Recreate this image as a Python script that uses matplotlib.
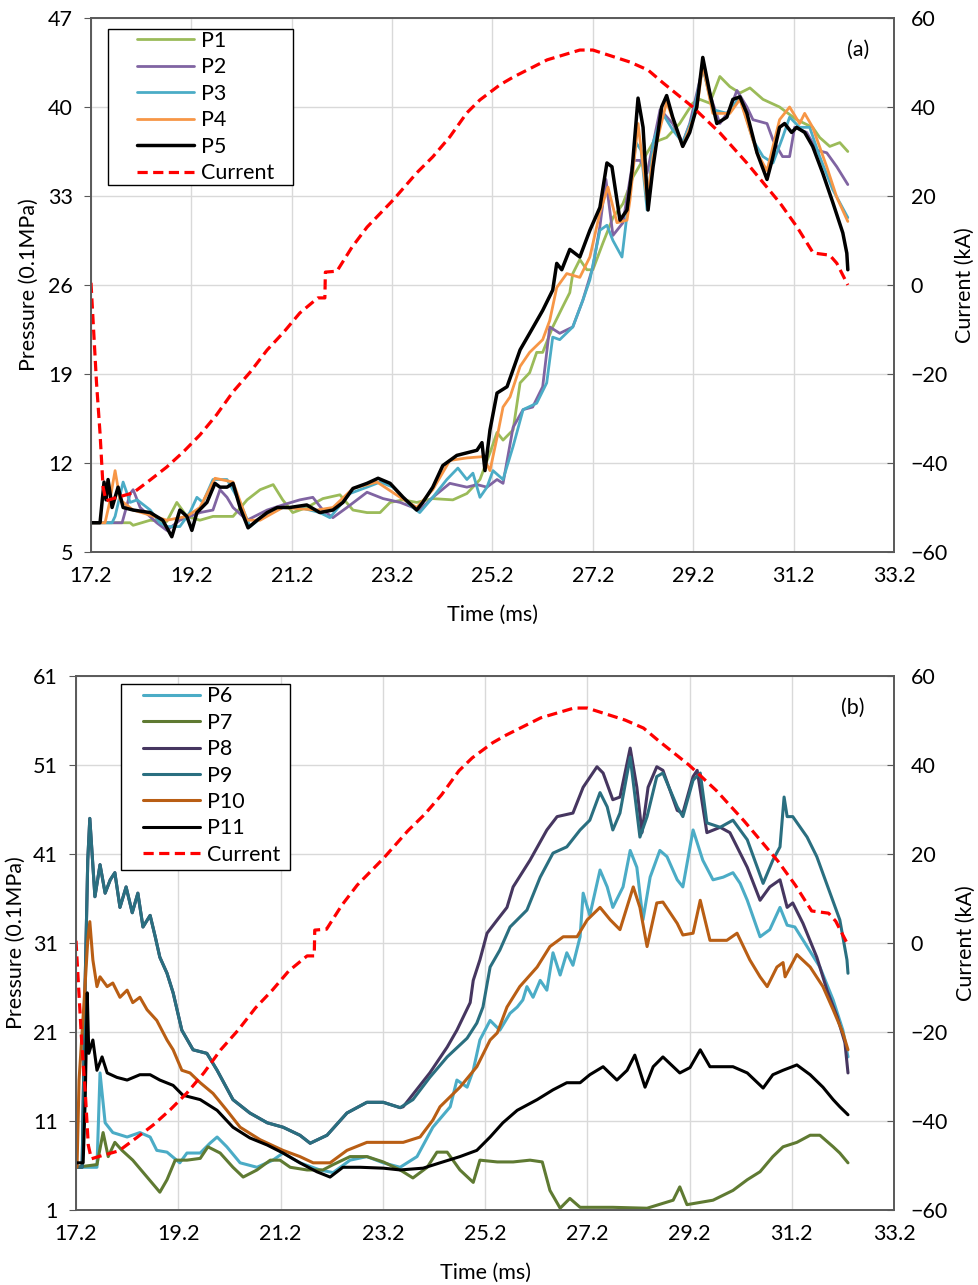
import numpy as np
import matplotlib
matplotlib.use("Agg")
import matplotlib.pyplot as plt
from matplotlib.patches import Rectangle

plt.rcParams['font.family'] = ['Lato', 'DejaVu Sans']

# ---------------- discharge current (kA), shared by both panels ----------------
cur_t = [17.20, 17.31, 17.38, 17.44, 17.50, 17.64, 18.04, 18.38, 18.71, 19.04, 19.37, 19.70,
         20.03, 20.37, 20.71, 21.04, 21.36, 21.72, 21.86, 21.87, 22.10, 22.40, 22.70, 23.22,
         23.69, 24.01, 24.35, 24.69, 24.95, 25.35, 25.61, 26.29, 26.94, 27.20, 27.94, 28.30,
         28.60, 29.19, 29.73, 30.27, 30.60, 30.93, 31.27, 31.59, 31.92, 32.06, 32.28]
cur_i = [0.5, -22.0, -33.3, -45.4, -48.5, -48.0, -46.7, -43.8, -40.9, -37.5, -33.7, -29.2,
         -24.0, -19.6, -14.6, -10.6, -6.3, -2.9, -2.9, 2.9, 3.1, 8.5, 13.0, 19.1,
         25.2, 28.8, 33.3, 38.7, 41.6, 45.0, 46.7, 50.6, 52.8, 52.8, 50.1, 48.3,
         45.4, 40.0, 34.2, 27.4, 22.9, 18.4, 13.0, 7.2, 6.7, 4.9, 0.0]

# ---------------- panel (a): pressure P1-P5 (0.1 MPa) ----------------
p1_t = [17.20, 17.98, 18.04, 18.38, 18.71, 18.91, 19.11, 19.37, 19.63, 20.03, 20.31, 20.57,
        20.83, 21.02, 21.22, 21.50, 21.82, 22.16, 22.42, 22.70, 22.96, 23.16, 23.42, 23.69,
        24.01, 24.41, 24.69, 24.95, 25.15, 25.29, 25.41, 25.61, 25.75, 25.94, 26.08, 26.20,
        26.40, 26.60, 26.74, 26.80, 26.94, 27.08, 27.20, 27.40, 27.60, 27.80, 28.00, 28.40,
        28.67, 28.93, 29.19, 29.33, 29.53, 29.73, 29.93, 30.13, 30.33, 30.59, 30.92, 31.26,
        31.58, 31.72, 31.92, 32.12, 32.28]
p1_v = [7.3, 7.3, 7.1, 7.5, 7.4, 8.9, 7.8, 7.5, 7.8, 7.8, 9.1, 9.9,
        10.3, 9.1, 8.1, 8.5, 9.2, 9.5, 8.3, 8.1, 8.1, 8.9, 9.1, 8.9,
        9.2, 9.1, 9.6, 10.7, 12.8, 14.4, 13.8, 14.6, 18.3, 19.1, 20.7, 20.7,
        22.7, 24.3, 25.4, 26.9, 28.0, 27.2, 27.2, 29.3, 31.3, 32.4, 34.5, 37.2,
        37.6, 38.7, 40.3, 40.6, 40.3, 42.4, 41.6, 41.1, 41.5, 40.6, 40.0, 39.0,
        38.4, 37.6, 36.9, 37.2, 36.5]

p2_t = [17.20, 17.82, 17.98, 18.04, 18.18, 18.51, 18.71, 18.97, 19.37, 19.63, 19.77, 19.91,
        20.03, 20.31, 20.71, 21.02, 21.36, 21.62, 21.82, 22.02, 22.30, 22.70, 23.02, 23.36,
        23.75, 24.01, 24.35, 24.69, 24.89, 25.09, 25.29, 25.41, 25.61, 25.81, 26.00, 26.20,
        26.34, 26.54, 26.80, 27.00, 27.20, 27.34, 27.46, 27.60, 27.80, 28.00, 28.14, 28.28,
        28.54, 28.79, 28.99, 29.13, 29.39, 29.59, 29.73, 29.93, 30.07, 30.27, 30.39, 30.67,
        30.79, 30.98, 31.12, 31.22, 31.46, 31.66, 31.86, 32.06, 32.28]
p2_v = [7.3, 7.3, 9.6, 9.9, 8.5, 7.3, 6.7, 7.5, 8.1, 8.3, 9.9, 9.3,
        8.5, 7.5, 8.3, 8.7, 9.1, 9.3, 8.3, 7.7, 8.5, 9.7, 9.2, 8.9,
        8.3, 9.3, 10.4, 10.1, 10.3, 10.1, 10.7, 10.4, 14.8, 16.2, 16.4, 18.0,
        22.7, 22.2, 22.7, 24.8, 27.4, 30.6, 34.3, 29.9, 30.9, 35.8, 35.8, 34.8,
        39.8, 38.7, 37.2, 38.7, 43.1, 40.3, 38.7, 39.8, 41.3, 40.0, 39.0, 38.7,
        37.4, 36.1, 36.1, 38.4, 38.0, 36.6, 36.4, 35.3, 33.9]

p3_t = [17.20, 17.62, 17.68, 17.84, 17.98, 18.12, 18.38, 18.57, 18.71, 18.97, 19.17, 19.31,
        19.43, 19.63, 19.91, 20.17, 20.37, 20.63, 21.02, 21.36, 21.76, 21.96, 22.36, 22.70,
        22.96, 23.22, 23.55, 23.75, 24.01, 24.29, 24.51, 24.69, 24.81, 24.95, 25.09, 25.21,
        25.41, 25.61, 25.81, 26.08, 26.28, 26.40, 26.54, 26.80, 27.00, 27.14, 27.34, 27.48,
        27.60, 27.78, 27.94, 28.06, 28.16, 28.28, 28.40, 28.59, 28.79, 28.99, 29.19, 29.39,
        29.59, 29.87, 30.13, 30.39, 30.59, 30.79, 30.98, 31.12, 31.32, 31.52, 31.72, 31.98,
        32.28]
p3_v = [7.3, 7.3, 7.8, 10.5, 8.9, 9.1, 8.3, 7.3, 7.0, 7.0, 8.1, 9.3,
        8.9, 10.7, 10.7, 8.9, 7.0, 7.8, 8.5, 8.5, 8.1, 7.7, 9.6, 10.1,
        10.5, 10.1, 8.7, 8.1, 9.3, 10.7, 11.6, 10.7, 11.2, 9.3, 10.1, 11.4,
        10.7, 13.3, 16.2, 16.7, 18.3, 21.9, 21.7, 22.7, 24.8, 26.4, 30.3, 30.7,
        29.5, 28.2, 33.5, 37.2, 36.6, 31.9, 37.2, 39.5, 38.2, 37.2, 39.2, 43.1,
        39.8, 39.5, 40.8, 37.4, 36.1, 35.6, 37.6, 39.2, 38.4, 38.4, 36.1, 33.5,
        31.3]

p4_t = [17.20, 17.48, 17.56, 17.68, 17.78, 18.04, 18.71, 19.11, 19.37, 19.67, 20.03, 20.31,
        20.57, 21.02, 21.70, 22.02, 22.42, 22.90, 23.36, 23.69, 24.01, 24.35, 24.69, 25.01,
        25.15, 25.29, 25.41, 25.55, 25.75, 25.94, 26.20, 26.34, 26.48, 26.68, 26.94, 27.14,
        27.34, 27.50, 27.68, 27.88, 27.94, 28.10, 28.28, 28.40, 28.67, 28.99, 29.27, 29.39,
        29.59, 29.93, 30.13, 30.47, 30.67, 30.92, 31.12, 31.32, 31.42, 31.58, 31.86, 32.06,
        32.28]
p4_v = [7.3, 7.3, 8.7, 11.4, 9.1, 8.3, 7.5, 7.8, 8.5, 10.8, 10.5, 7.5,
        7.5, 8.5, 8.3, 8.5, 10.0, 10.5, 9.3, 8.5, 9.9, 12.2, 12.4, 12.5,
        11.4, 14.0, 16.4, 17.2, 19.6, 20.7, 21.7, 23.2, 25.8, 26.9, 26.6, 28.2,
        31.7, 33.7, 30.9, 31.1, 32.7, 38.7, 32.7, 36.1, 40.4, 36.9, 39.8, 43.3,
        39.5, 39.5, 40.6, 36.4, 35.0, 39.0, 40.0, 38.7, 39.5, 38.4, 35.3, 32.9,
        31.0]

p5_t = [17.20, 17.38, 17.46, 17.50, 17.54, 17.62, 17.74, 17.84, 18.04, 18.38, 18.63, 18.81,
        18.97, 19.11, 19.21, 19.31, 19.51, 19.67, 19.77, 19.91, 20.03, 20.17, 20.33, 20.51,
        20.71, 20.91, 21.16, 21.50, 21.76, 22.02, 22.22, 22.42, 22.70, 22.92, 23.16, 23.42,
        23.69, 23.81, 24.01, 24.21, 24.49, 24.69, 24.89, 24.99, 25.05, 25.15, 25.29, 25.49,
        25.75, 25.94, 26.20, 26.40, 26.48, 26.58, 26.74, 26.94, 27.14, 27.34, 27.48, 27.58,
        27.74, 27.88, 27.98, 28.10, 28.20, 28.30, 28.40, 28.57, 28.67, 28.79, 28.99, 29.13,
        29.27, 29.39, 29.53, 29.67, 29.87, 29.99, 30.13, 30.27, 30.47, 30.67, 30.77, 30.92,
        31.02, 31.16, 31.26, 31.42, 31.58, 31.78, 31.98, 32.18, 32.26, 32.28]
p5_v = [7.3, 7.3, 10.5, 9.1, 10.7, 8.5, 10.1, 8.5, 8.3, 8.1, 7.5, 6.2,
        8.3, 7.8, 6.7, 8.1, 8.9, 10.4, 10.1, 10.1, 10.4, 8.5, 6.9, 7.5,
        8.1, 8.5, 8.5, 8.7, 8.1, 8.3, 8.9, 10.0, 10.4, 10.8, 10.4, 9.3,
        8.3, 8.9, 10.1, 11.8, 12.6, 12.8, 13.0, 13.6, 11.4, 14.6, 17.5, 18.0,
        20.9, 22.2, 24.0, 25.6, 27.7, 27.2, 28.8, 28.2, 30.3, 32.1, 35.6, 35.3,
        31.1, 31.9, 35.0, 40.7, 38.4, 31.9, 35.3, 40.0, 40.9, 39.2, 36.9, 38.0,
        40.0, 43.9, 41.1, 38.7, 39.2, 40.6, 40.8, 39.5, 36.4, 34.3, 35.8, 38.4,
        38.7, 38.0, 38.4, 38.0, 36.9, 34.8, 32.5, 30.1, 28.5, 27.2]

# ---------------- panel (b): pressure P6-P11 (0.1 MPa) ----------------
p6_t = [17.20, 17.61, 17.67, 17.77, 17.92, 18.20, 18.45, 18.65, 18.78, 18.98, 19.23, 19.37,
        19.63, 19.82, 19.96, 20.15, 20.41, 20.74, 21.05, 21.25, 21.58, 21.97, 22.23, 22.56,
        22.89, 23.21, 23.54, 23.87, 24.18, 24.52, 24.65, 24.85, 24.97, 25.10, 25.30, 25.49,
        25.69, 25.83, 25.94, 26.02, 26.14, 26.28, 26.41, 26.53, 26.67, 26.80, 26.92, 27.06,
        27.12, 27.25, 27.45, 27.59, 27.70, 27.90, 28.04, 28.17, 28.29, 28.43, 28.62, 28.76,
        28.96, 29.07, 29.27, 29.46, 29.66, 29.86, 30.05, 30.19, 30.33, 30.58, 30.77, 30.97,
        31.11, 31.26, 31.50, 31.75, 32.01, 32.20, 32.30]
p6_v = [5.8, 5.8, 16.4, 10.8, 9.7, 9.2, 9.7, 9.2, 7.7, 7.5, 6.3, 7.4,
        7.4, 8.5, 9.2, 8.1, 6.3, 5.8, 6.6, 7.4, 6.3, 5.5, 5.2, 6.6,
        7.0, 6.3, 5.8, 7.0, 10.3, 12.6, 15.6, 14.8, 16.7, 20.1, 22.3, 21.2,
        23.1, 23.8, 24.6, 26.1, 24.9, 26.8, 25.7, 29.9, 27.4, 29.9, 28.5, 31.7,
        36.6, 34.1, 39.2, 37.3, 35.0, 37.3, 41.4, 39.5, 33.6, 38.4, 41.4, 40.7,
        38.1, 37.3, 43.7, 40.3, 38.1, 38.4, 38.9, 37.7, 35.8, 31.7, 32.5, 35.0,
        33.0, 32.8, 30.6, 28.3, 24.6, 21.2, 18.2]

p7_t = [17.20, 17.61, 17.73, 17.83, 17.96, 18.10, 18.31, 18.59, 18.84, 18.98, 19.14, 19.37,
        19.63, 19.78, 20.02, 20.27, 20.47, 20.74, 21.00, 21.19, 21.39, 21.72, 22.03, 22.23,
        22.56, 22.89, 23.21, 23.54, 23.79, 24.07, 24.26, 24.46, 24.71, 24.97, 25.10, 25.44,
        25.75, 26.08, 26.32, 26.47, 26.67, 26.86, 27.06, 27.70, 28.37, 28.88, 29.01, 29.15,
        29.66, 30.05, 30.33, 30.58, 30.83, 31.03, 31.30, 31.56, 31.75, 32.01, 32.14, 32.30]
p7_v = [5.8, 6.1, 9.7, 7.0, 8.6, 7.7, 6.6, 4.7, 3.0, 4.4, 6.6, 6.6,
        6.8, 8.1, 7.4, 5.8, 4.7, 5.5, 6.6, 6.6, 5.8, 5.5, 5.5, 6.1,
        7.0, 7.0, 6.4, 5.5, 4.6, 5.8, 7.5, 7.5, 5.5, 4.1, 6.6, 6.4,
        6.4, 6.6, 6.4, 3.2, 1.2, 2.3, 1.3, 1.3, 1.2, 2.1, 3.6, 1.6,
        2.1, 3.2, 4.4, 5.3, 7.0, 8.1, 8.6, 9.4, 9.4, 8.1, 7.4, 6.3]

p9_t = [17.20, 17.32, 17.38, 17.43, 17.47, 17.57, 17.67, 17.77, 17.87, 17.96, 18.06, 18.18,
        18.30, 18.41, 18.51, 18.65, 18.75, 18.84, 18.98, 19.10, 19.27, 19.49, 19.76, 19.96,
        20.27, 20.60, 20.94, 21.25, 21.58, 21.78, 22.11, 22.50, 22.89, 23.21, 23.54, 23.79,
        24.12, 24.46, 24.85, 25.04, 25.16, 25.30, 25.49, 25.69, 26.02, 26.28, 26.53, 26.80,
        27.06, 27.25, 27.45, 27.59, 27.70, 27.84, 28.04, 28.23, 28.37, 28.56, 28.68, 28.96,
        29.07, 29.27, 29.41, 29.54, 29.80, 30.05, 30.33, 30.64, 30.83, 30.97, 31.05, 31.11,
        31.22, 31.50, 31.69, 31.95, 32.14, 32.28, 32.30]
p9_v = [5.8, 5.8, 26.8, 40.3, 45.0, 36.2, 39.8, 36.6, 38.1, 38.9, 35.0, 37.3,
        34.4, 36.6, 32.8, 34.1, 31.7, 29.4, 27.6, 25.4, 21.2, 19.0, 18.6, 16.7,
        13.4, 11.9, 10.8, 10.3, 9.4, 8.5, 9.4, 11.9, 13.1, 13.1, 12.5, 13.4,
        15.9, 18.2, 20.3, 22.0, 23.8, 28.3, 30.2, 32.8, 34.7, 38.4, 41.1, 41.8,
        43.7, 44.8, 47.9, 46.3, 43.7, 45.6, 51.9, 42.9, 45.2, 49.7, 50.1, 46.3,
        45.2, 49.3, 50.1, 44.5, 44.0, 44.8, 42.6, 37.7, 40.3, 41.8, 47.4, 45.2,
        45.2, 42.9, 40.7, 36.6, 33.6, 29.1, 27.6]

# P8 runs together with P9 until it separates near 23.6 ms
p8_late_t = [23.60, 24.12, 24.46, 24.65, 24.91, 24.97, 25.10, 25.24, 25.44, 25.63, 25.75, 26.08,
             26.41, 26.61, 26.92, 27.12, 27.39, 27.51, 27.70, 27.84, 28.04, 28.17, 28.27, 28.39,
             28.56, 28.68, 28.96, 29.07, 29.27, 29.35, 29.54, 29.80, 29.99, 30.13, 30.33, 30.58,
             30.77, 30.97, 31.11, 31.22, 31.42, 31.69, 31.89, 32.09, 32.24, 32.30]
p8_late_v = [12.6, 16.4, 19.3, 21.2, 24.3, 26.8, 29.1, 32.1, 33.6, 35.0, 37.3, 40.3,
             43.7, 45.2, 45.6, 48.5, 50.8, 50.1, 47.1, 47.4, 52.9, 48.5, 43.4, 48.5,
             50.8, 50.4, 45.9, 45.6, 49.7, 50.4, 43.4, 44.0, 43.4, 41.8, 39.5, 35.8,
             37.3, 38.1, 35.0, 35.5, 33.2, 29.4, 25.7, 22.7, 19.8, 16.4]

p10_t = [17.20, 17.22, 17.26, 17.36, 17.43, 17.47, 17.53, 17.61, 17.67, 17.81, 17.92, 18.06,
         18.20, 18.31, 18.45, 18.59, 18.78, 18.98, 19.10, 19.27, 19.43, 19.63, 19.88, 20.15,
         20.41, 20.80, 21.25, 21.58, 21.84, 22.17, 22.50, 22.89, 23.21, 23.60, 23.93, 24.18,
         24.32, 24.71, 25.04, 25.30, 25.44, 25.63, 25.88, 26.22, 26.47, 26.73, 27.00, 27.20,
         27.45, 27.65, 27.84, 28.10, 28.23, 28.37, 28.56, 28.68, 28.96, 29.07, 29.27, 29.41,
         29.60, 29.93, 30.13, 30.38, 30.58, 30.72, 30.91, 31.03, 31.07, 31.30, 31.56, 31.81,
         32.01, 32.20, 32.30]
p10_v = [5.8, 5.8, 15.6, 24.6, 31.3, 33.4, 29.1, 26.1, 27.2, 26.1, 26.5, 24.9,
         25.7, 24.3, 24.9, 23.5, 22.3, 20.1, 19.0, 16.7, 16.4, 15.3, 14.1, 12.2,
         10.3, 8.9, 7.7, 7.0, 6.3, 6.3, 7.7, 8.6, 8.6, 8.6, 9.2, 11.1,
         12.6, 14.8, 17.1, 20.1, 20.9, 23.8, 26.1, 28.3, 30.6, 31.7, 31.7, 33.6,
         35.0, 33.6, 32.5, 37.3, 35.0, 30.6, 35.5, 35.6, 33.2, 31.9, 32.1, 35.8,
         31.3, 31.3, 32.1, 29.1, 27.2, 26.1, 28.3, 28.8, 27.2, 29.7, 28.3, 26.1,
         23.5, 20.9, 19.0]

p11_t = [17.20, 17.34, 17.38, 17.42, 17.45, 17.53, 17.61, 17.71, 17.81, 18.00, 18.20, 18.45,
         18.65, 18.84, 19.10, 19.29, 19.63, 19.96, 20.27, 20.60, 20.94, 21.25, 21.58, 21.91,
         22.17, 22.42, 22.76, 23.21, 23.54, 23.99, 24.32, 24.71, 25.04, 25.30, 25.55, 25.83,
         26.22, 26.53, 26.80, 27.06, 27.25, 27.51, 27.78, 27.98, 28.13, 28.33, 28.49, 28.68,
         29.01, 29.21, 29.41, 29.60, 30.05, 30.33, 30.64, 30.83, 31.03, 31.30, 31.56, 31.81,
         32.01, 32.14, 32.30]
p11_v = [6.3, 6.3, 13.4, 25.4, 18.6, 20.1, 16.7, 18.2, 16.4, 15.9, 15.6, 16.2,
         16.2, 15.6, 15.0, 13.9, 13.4, 12.2, 10.3, 9.1, 8.3, 7.4, 6.3, 5.3,
         4.7, 5.8, 5.8, 5.7, 5.5, 5.7, 6.3, 7.0, 7.7, 9.2, 10.8, 12.2,
         13.4, 14.5, 15.3, 15.3, 16.2, 17.1, 15.6, 16.7, 18.4, 14.8, 17.1, 18.2,
         16.4, 17.0, 19.0, 17.1, 17.1, 16.4, 14.7, 16.2, 16.7, 17.3, 16.2, 14.8,
         13.4, 12.6, 11.7]

# ---------------- axis scales ----------------
time_ticks = [17.2, 19.2, 21.2, 23.2, 25.2, 27.2, 29.2, 31.2, 33.2]
press_ticks_a = [5, 12, 19, 26, 33, 40, 47]
press_ticks_b = [1, 11, 21, 31, 41, 51, 61]
current_ticks = [-60, -40, -20, 0, 20, 40, 60]

# P8 hidden segment shares the P9 trace
p9_t_arr = np.array(p9_t)
early = p9_t_arr < 23.6
p8_t = np.concatenate([p9_t_arr[early], p8_late_t])
p8_v = np.concatenate([np.array(p9_v)[early], p8_late_v])

series_a = [("P1", p1_t, p1_v, "#9BBB59", 2.0),
            ("P2", p2_t, p2_v, "#8064A2", 2.0),
            ("P3", p3_t, p3_v, "#4BACC6", 2.0),
            ("P4", p4_t, p4_v, "#F79646", 2.0),
            ("P5", p5_t, p5_v, "#000000", 2.5)]
series_b = [("P6", p6_t, p6_v, "#4BACC6", 2.2),
            ("P7", p7_t, p7_v, "#5F7A32", 2.2),
            ("P8", p8_t, p8_v, "#463660", 2.2),
            ("P9", p9_t, p9_v, "#2A6F80", 2.2),
            ("P10", p10_t, p10_v, "#B95E14", 2.2),
            ("P11", p11_t, p11_v, "#000000", 2.2)]

SPINE = "#595959"
GRID = "#D9D9D9"
FS = 15.5

fig = plt.figure(figsize=(9.79, 12.85), dpi=100)


def make_panel(rect, series, pticks, tag, tag_x, leg_anchor, leg_box, ylab_x):
    ax = fig.add_axes(rect)
    for name, t, v, col, lw in series:
        ax.plot(t, v, color=col, lw=lw, label=name, solid_joinstyle="round",
                solid_capstyle="round")
    ax.set_xlim(17.2, 33.2)
    ax.set_ylim(pticks[0], pticks[-1])
    ax.set_xticks(time_ticks)
    ax.set_xticklabels([f"{x:.1f}" for x in time_ticks])
    ax.set_yticks(pticks)
    ax.grid(True, color=GRID, lw=1.0)
    ax.set_axisbelow(True)
    ax.tick_params(axis="x", length=0, pad=10, labelsize=FS, colors="black")
    ax.tick_params(axis="y", length=5, direction="out", pad=8, labelsize=FS,
                   color=SPINE, labelcolor="black")
    for s in ax.spines.values():
        s.set_color(SPINE)
        s.set_linewidth(1.2)
    ax.set_xlabel("Time (ms)", fontsize=FS)
    ax.xaxis.set_label_coords(0.5, -0.118)
    ax.xaxis.label.set_va("center")
    ax.set_ylabel("Pressure (0.1MPa)", fontsize=FS)
    ax.yaxis.set_label_coords(ylab_x, 0.5)
    ax.yaxis.label.set_va("center")

    ax2 = ax.twinx()
    ax2.plot(cur_t, cur_i, color="#FF0000", lw=2.3, ls=(0, (3.2, 1.7)), label="Current")
    ax2.set_ylim(-60, 60)
    ax2.set_yticks(current_ticks)
    ax2.tick_params(axis="y", length=5, direction="in", pad=12, labelsize=FS,
                    color=SPINE, labelcolor="black")
    for s in ax2.spines.values():
        s.set_color(SPINE)
        s.set_linewidth(1.2)
    ax2.set_ylabel("Current (kA)", fontsize=FS)
    ax2.yaxis.set_label_coords(1.088, 0.5)
    ax2.yaxis.label.set_va("center")

    ax2.text(tag_x, 0.94, tag, transform=ax2.transAxes,
             fontsize=FS, ha="center", va="center")

    # legend frame and entries
    x0, y0, w, h = leg_box
    ax2.add_patch(Rectangle((x0, y0), w, h, transform=ax2.transAxes, facecolor="white",
                            edgecolor="black", lw=1.0, zorder=8))
    handles = ax.get_lines() + ax2.get_lines()
    leg = ax2.legend(handles, [hd.get_label() for hd in handles], loc="upper left",
                     bbox_to_anchor=leg_anchor, borderaxespad=0, borderpad=0,
                     frameon=False, fontsize=FS, handlelength=2.65, handletextpad=0.3,
                     labelspacing=0.3)
    leg.set_zorder(9)
    return ax, ax2


make_panel([0.09295, 0.57043, 0.82022, 0.41556], series_a, press_ticks_a, "(a)", 0.955,
           (0.0573, 0.9757), (0.0212, 0.6873, 0.2304, 0.2921), -0.078)
make_panel([0.07763, 0.05837, 0.83555, 0.41556], series_b, press_ticks_b, "(b)", 0.95,
           (0.0819, 0.981), (0.0550, 0.6367, 0.2066, 0.3483), -0.073)

fig.savefig("out.png", dpi=100, facecolor="white")
